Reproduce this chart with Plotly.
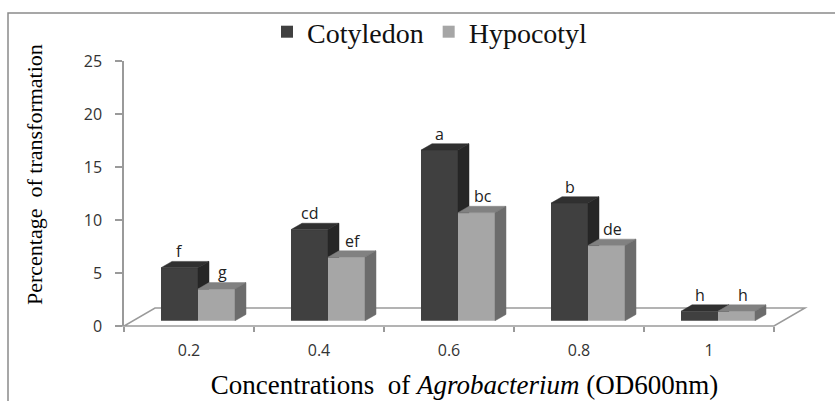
import plotly.graph_objects as go

# ---- data ----
concentrations = ["0.2", "0.4", "0.6", "0.8", "1"]
cotyledon = [5.0, 8.6, 16.1, 11.1, 0.9]
hypocotyl = [3.0, 6.0, 10.2, 7.1, 0.9]
cot_letters = ["f", "cd", "a", "b", "h"]
hyp_letters = ["g", "ef", "bc", "de", "h"]
y_ticks = [0, 5, 10, 15, 20, 25]

# ---- geometry / style constants (pseudo-3D projection) ----
W, H = 835, 401
M_L, M_R, M_T, M_B = 124, 30, 61, 75
Y_MAX = 25
PLOT_W = W - M_L - M_R
PLOT_H = H - M_T - M_B
PX_Y = PLOT_H / Y_MAX                     # px per y unit
SLOPE = 0.58                              # vertical px per horizontal px of depth
FLOOR_DEPTH = 31                          # px (horizontal) of floor depth
CAT_PX = 130                              # px per category
X_MIN = -0.5
X_MAX = len(concentrations) - 0.5 + FLOOR_DEPTH / CAT_PX
PX_X = PLOT_W / (X_MAX - X_MIN)


def ux(px):
    return px / PX_X


def uy(px):
    return px / PX_Y


BAR_FRONT = 9      # depth of bar front face (horizontal px)
BAR_DEPTH = 11     # bar depth (horizontal px)
BAR_W = ux(37)
shift = ux(BAR_FRONT)
base = uy(BAR_FRONT * SLOPE)
ddx = ux(BAR_DEPTH)
ddy = uy(BAR_DEPTH * SLOPE)

COT_FRONT, COT_TOP, COT_SIDE = "#404040", "#303030", "#262626"
HYP_FRONT, HYP_TOP, HYP_SIDE = "#a6a6a6", "#818181", "#6c6c6c"
GRID = "#9a9a9a"
SANS = "Open Sans"
SERIF = "Liberation Serif"

idx = list(range(len(concentrations)))

fig = go.Figure()

# front faces
fig.add_trace(go.Bar(x=idx, y=cotyledon, base=base, width=BAR_W, offset=shift - BAR_W,
                     marker=dict(color=COT_FRONT, line=dict(width=0)), name="Cotyledon"))
fig.add_trace(go.Bar(x=idx, y=hypocotyl, base=base, width=BAR_W, offset=shift,
                     marker=dict(color=HYP_FRONT, line=dict(width=0)), name="Hypocotyl"))


def faces(values, left_off, clip_vals=None):
    tx, ty, sx, sy = [], [], [], []
    for i, v in zip(idx, values):
        xl = i + left_off
        xr = xl + BAR_W
        t = base + v
        tx += [xl, xl + ddx, xr + ddx, xr, xl, None]
        ty += [t, t + ddy, t + ddy, t, t, None]
        if clip_vals is None:
            b0, b1 = base, base + ddy
        else:
            b0 = b1 = max(base, base + clip_vals[i])
        sx += [xr, xr, xr + ddx, xr + ddx, xr, None]
        sy += [b0, t, t + ddy, b1, b0, None]
    return tx, ty, sx, sy


ctx, cty, csx, csy = faces(cotyledon, shift - BAR_W, clip_vals=hypocotyl)
htx, hty, hsx, hsy = faces(hypocotyl, shift)

for xs, ys, col in [(ctx, cty, COT_TOP), (csx, csy, COT_SIDE), (htx, hty, HYP_TOP), (hsx, hsy, HYP_SIDE)]:
    fig.add_trace(go.Scatter(x=xs, y=ys, mode="lines", fill="toself", fillcolor=col,
                             line=dict(color=col, width=0.5), showlegend=False, hoverinfo="skip"))

# significance letters
ann = []
for i in idx:
    ann.append(dict(x=i + shift - BAR_W / 2, y=base + cotyledon[i], xref="x", yref="y",
                    text=cot_letters[i], showarrow=False, yshift=16.5,
                    font=dict(family=SANS, size=16, color="#222")))
    ann.append(dict(x=i + shift + BAR_W / 2, y=base + hypocotyl[i], xref="x", yref="y",
                    text=hyp_letters[i], showarrow=False, yshift=16.5, xshift=6,
                    font=dict(family=SANS, size=16, color="#222")))

# y-axis title
ann.append(dict(x=(34 - M_L) / PLOT_W, y=(H - M_B - 175) / PLOT_H,
                xref="paper", yref="paper", text="Percentage\u00a0 of transformation",
                textangle=-90, showarrow=False, xanchor="center", yanchor="middle",
                font=dict(family=SERIF, size=22, color="#000")))


def px_paper(xv):
    return (xv - X_MIN) / (X_MAX - X_MIN)


def py_paper(yv):
    return yv / Y_MAX


fdx = ux(FLOOR_DEPTH)
fdy = uy(FLOOR_DEPTH * SLOPE)
x_end = len(concentrations) - 0.5
floor_path = "M {} {} L {} {} L {} {} L {} {} Z".format(
    px_paper(X_MIN), py_paper(0), px_paper(x_end), py_paper(0),
    px_paper(x_end + fdx), py_paper(fdy), px_paper(X_MIN + fdx), py_paper(fdy))

shapes = [
    dict(type="path", path=floor_path, xref="paper", yref="paper", layer="below",
         line=dict(color=GRID, width=1.5)),
    dict(type="rect", xref="paper", yref="paper",
         x0=(8 - M_L) / PLOT_W, x1=(W + 10 - M_L) / PLOT_W,
         y0=(H - M_B - (H + 10)) / PLOT_H, y1=(H - M_B - 13) / PLOT_H,
         line=dict(color="#8a8a8a", width=1.5)),
]

fig.update_layout(
    width=W, height=H,
    margin=dict(l=M_L, r=M_R, t=M_T, b=M_B, pad=0, autoexpand=False),
    paper_bgcolor="white", plot_bgcolor="white",
    barmode="overlay",
    showlegend=True,
    legend=dict(orientation="h", x=(430 - M_L) / PLOT_W, xanchor="center",
                y=(H - M_B - 32) / PLOT_H, yanchor="middle",
                font=dict(family=SERIF, size=28, color="#111"), bgcolor="rgba(0,0,0,0)",
                itemwidth=30, tracegroupgap=0),
    xaxis=dict(range=[X_MIN, X_MAX], tickvals=idx, ticktext=concentrations,
               ticks="outside", ticklen=10, tickcolor="rgba(0,0,0,0)",
               showline=False, showgrid=False, zeroline=False, automargin=False,
               tickfont=dict(family=SANS, size=16, color="#333"),
               minor=dict(tickvals=[i - 0.5 for i in range(len(concentrations) + 1)],
                          ticks="outside", ticklen=5, tickcolor=GRID, tickwidth=1.5,
                          showgrid=False),
               title=dict(text="Concentrations\u00a0 of <i>Agrobacterium</i> (OD600nm)",
                          font=dict(family=SERIF, size=27, color="#000"), standoff=14),
               fixedrange=True),
    yaxis=dict(range=[0, Y_MAX], tickvals=y_ticks, ticks="outside", ticklen=7,
               tickcolor=GRID, tickwidth=1.5, showline=True, linecolor=GRID, linewidth=1.5,
               showgrid=False, zeroline=False, ticklabelstandoff=10, automargin=False,
               tickfont=dict(family=SANS, size=16, color="#333"), fixedrange=True),
    annotations=ann,
    shapes=shapes,
)

fig.write_html("out.html", config={"displayModeBar": False},
               post_script="document.body.style.margin='0';document.body.style.overflow='hidden';")
